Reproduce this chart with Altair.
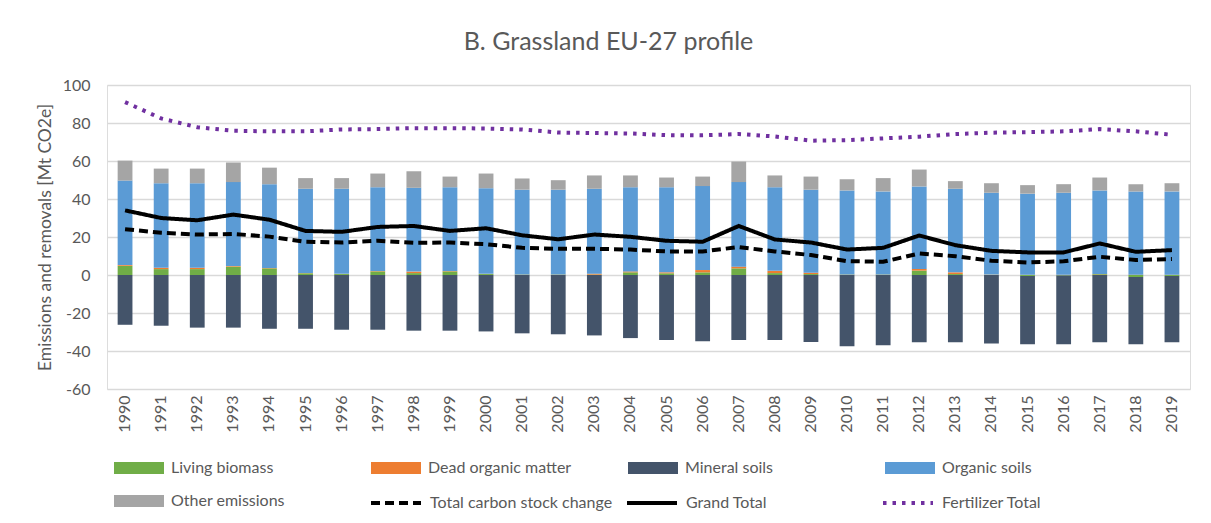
import altair as alt
import pandas as pd

years = [str(y) for y in range(1990, 2020)]

living_biomass = [4.8, 3.1, 3.1, 4.4, 3.5, 0.9, 0.5, 1.9, 1.0, 1.9,
                  0.5, 0.2, 0.2, 0.2, 1.4, 0.9, 1.4, 3.5, 1.0, 0.5,
                  0.2, 0.2, 2.3, 0.5, 0.1, -0.5, -0.3, 0.4, -1.0, -0.5]
dead_organic_matter = [0.4, 0.7, 0.7, 0.3, 0.2, 0.1, 0.1, 0.2, 0.8, 0.2,
                       0.1, 0.1, 0.1, 0.5, 0.5, 0.5, 1.2, 0.9, 1.2, 0.7,
                       0.1, 0.1, 0.9, 0.9, 0.1, 0.1, 0.1, 0.1, 0.1, 0.1]
mineral_soils = [-26.2, -26.7, -27.7, -27.7, -28.3, -28.3, -28.8, -28.8, -29.3, -29.3,
                 -29.7, -30.7, -31.2, -31.8, -33.2, -34.2, -34.9, -34.2, -34.2, -35.3,
                 -37.5, -37.0, -35.4, -35.4, -36.0, -36.0, -36.2, -35.4, -35.5, -34.9]
organic_soils = [44.5, 44.5, 44.5, 44.2, 44.1, 44.4, 44.8, 44.1, 44.1, 44.1,
                 45.1, 44.6, 44.6, 44.7, 44.3, 44.8, 44.2, 44.5, 44.0, 43.7,
                 44.2, 43.7, 43.4, 44.0, 43.1, 42.7, 43.2, 44.0, 43.9, 43.9]
other_emissions = [10.5, 7.7, 7.7, 10.3, 8.7, 5.6, 5.6, 7.2, 8.7, 5.6,
                   7.7, 5.9, 5.0, 7.0, 6.2, 5.1, 5.0, 10.8, 6.2, 6.9,
                   5.9, 7.0, 8.9, 4.0, 5.0, 4.5, 4.5, 6.8, 3.8, 4.3]

total_carbon_stock_change = [24.1, 22.2, 21.3, 21.6, 20.2, 17.5, 17.1, 18.0, 16.9, 17.1,
                             16.2, 14.3, 13.8, 13.8, 13.4, 12.4, 12.4, 14.7, 12.4, 10.5,
                             7.3, 7.0, 11.3, 9.9, 7.5, 6.6, 7.2, 9.6, 7.9, 8.4]
grand_total = [34.0, 30.0, 28.8, 31.8, 29.1, 23.2, 22.7, 25.3, 25.8, 23.2,
               24.6, 20.9, 18.8, 21.3, 20.1, 18.0, 17.5, 25.8, 18.7, 17.1,
               13.4, 14.3, 20.8, 15.7, 12.7, 11.9, 11.9, 16.6, 12.2, 13.1]
fertilizer_total = [91.0, 82.4, 77.8, 75.9, 75.6, 75.6, 76.6, 76.8, 77.3, 77.3,
                    77.1, 76.6, 75.0, 74.7, 74.5, 73.6, 73.5, 74.2, 72.9, 70.7,
                    71.0, 71.9, 72.8, 74.2, 74.9, 75.2, 75.6, 76.8, 75.6, 73.8]

bar_names = ["Living biomass", "Dead organic matter", "Mineral soils", "Organic soils", "Other emissions"]
bar_colors = ["#70AD47", "#ED7D31", "#44546A", "#5B9BD5", "#A5A5A5"]
line_names = ["Total carbon stock change", "Grand Total", "Fertilizer Total"]
line_colors = ["#000000", "#000000", "#7030A0"]
line_dashes = [[9, 5], [1, 0], [3.5, 6]]
y_ticks = [-60, -40, -20, 0, 20, 40, 60, 80, 100]

bar_series = [living_biomass, dead_organic_matter, mineral_soils, organic_soils, other_emissions]
line_series = [total_carbon_stock_change, grand_total, fertilizer_total]

bar_rows = []
for j, (name, vals) in enumerate(zip(bar_names, bar_series)):
    for i, y in enumerate(years):
        bar_rows.append({"year": y, "component": name, "value": vals[i], "idx": j})
bars_df = pd.DataFrame(bar_rows)

line_rows = []
for j, (name, vals) in enumerate(zip(line_names, line_series)):
    for i, y in enumerate(years):
        line_rows.append({"year": y, "series": name, "value": vals[i]})
lines_df = pd.DataFrame(line_rows)

FONT = "Lato"
GREY = "#595959"

x_enc = alt.X(
    "year:N", sort=years,
    scale=alt.Scale(paddingInner=0.59, paddingOuter=0.295),
    axis=alt.Axis(title=None, labelAngle=270, labelFont=FONT, labelFontSize=16,
                  labelColor=GREY, ticks=False, tickSize=0, labelPadding=6,
                  domain=False, grid=False),
)
y_scale = alt.Scale(domain=[-60, 100], nice=False)

line_legend = alt.Legend(title=None, orient="none", direction="horizontal",
                         legendX=262, legendY=391, columns=3, gridAlign="all",
                         columnPadding=6, labelLimit=400,
                         symbolType="stroke", symbolSize=2500,
                         symbolStrokeWidth=4, labelOffset=7,
                         labelFont=FONT, labelFontSize=16, labelColor=GREY,
                         padding=0)

bars = alt.Chart(bars_df).mark_bar().encode(
    x=x_enc,
    y=alt.Y("value:Q", stack="zero", scale=y_scale,
            axis=alt.Axis(title="Emissions and removals [Mt CO2e]",
                          values=y_ticks, tickCount=len(y_ticks),
                          labelExpr="'' + datum.value",
                          labelOverlap=False, labelFlush=False,
                          labelFont=FONT, labelFontSize=16, labelColor=GREY,
                          titleFont=FONT, titleFontSize=17.5, titleFontWeight="normal",
                          titleColor=GREY, titlePadding=8,
                          ticks=False, tickSize=0, labelPadding=17, domain=False,
                          grid=True, gridColor="#d9d9d9", gridWidth=1.3)),
    fill=alt.Fill("component:N",
                  scale=alt.Scale(domain=bar_names, range=bar_colors),
                  legend=alt.Legend(title=None, orient="none", direction="horizontal",
                                    legendX=7, legendY=358,
                                    columns=4, gridAlign="all", columnPadding=56,
                                    rowPadding=-17, labelLimit=400,
                                    symbolType="M-1,-0.24H1V0.24H-1Z", symbolSize=2500,
                                    symbolStrokeWidth=0, labelOffset=7,
                                    labelFont=FONT, labelFontSize=16, labelColor=GREY,
                                    padding=0)),
    order=alt.Order("idx:Q"),
)

lines = alt.Chart(lines_df).mark_line(strokeWidth=4).encode(
    x=alt.X("year:N", sort=years),
    y=alt.Y("value:Q", scale=y_scale),
    stroke=alt.Stroke("series:N",
                      scale=alt.Scale(domain=line_names, range=line_colors),
                      legend=line_legend),
    strokeDash=alt.StrokeDash("series:N",
                              scale=alt.Scale(domain=line_names, range=line_dashes),
                              legend=line_legend),
)

chart = alt.layer(bars, lines).properties(
    width=1083, height=304,
    autosize="none",
    padding={"left": 99, "top": 77, "right": 13, "bottom": 122},
    title=alt.Title("B. Grassland EU-27 profile", font=FONT, fontSize=25,
                    fontWeight="normal", color=GREY, anchor="middle", dx=-40, offset=22),
).configure_view(stroke=None).configure(background="white")

chart.save("out.html", embed_options={"renderer": "svg", "actions": False})
